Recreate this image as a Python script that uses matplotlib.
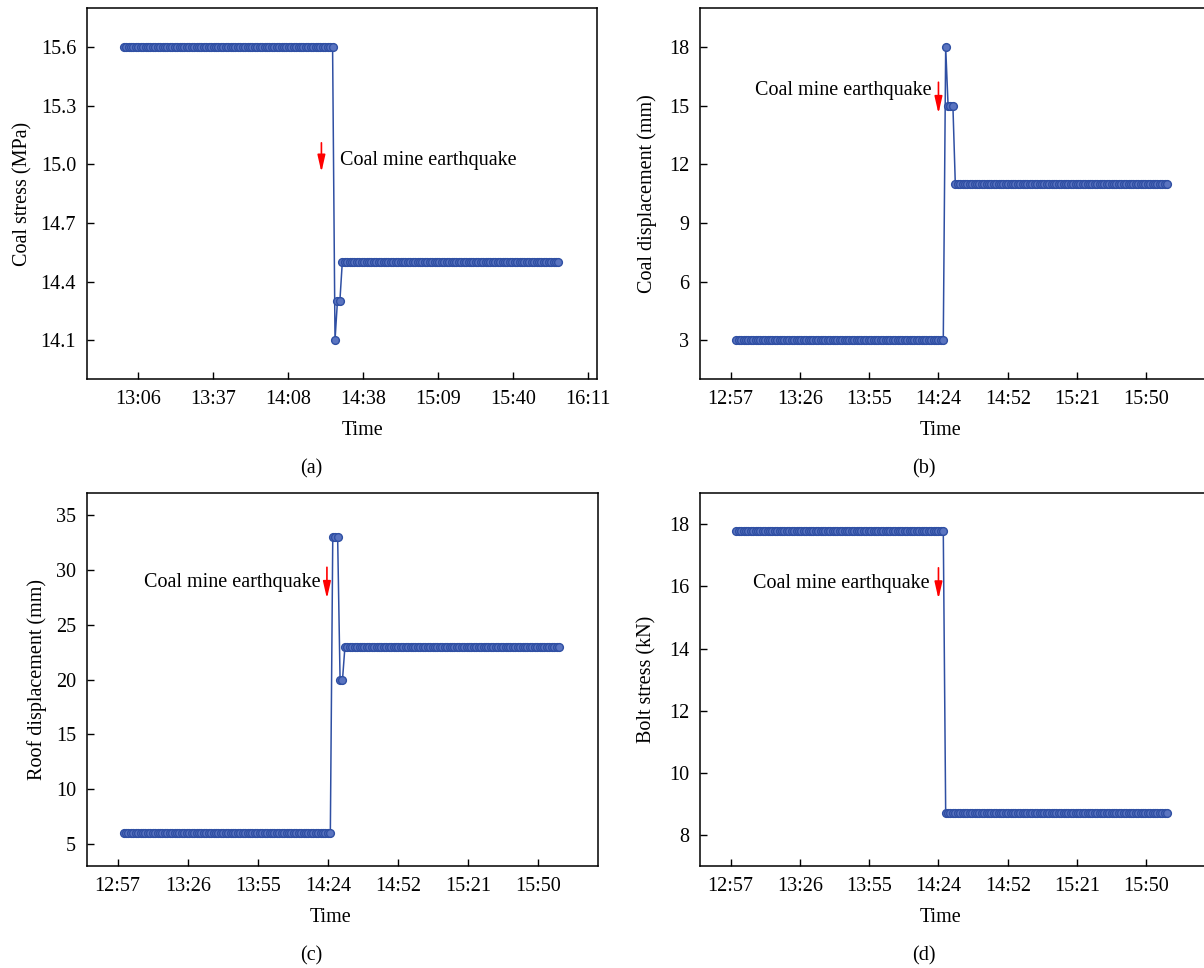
import numpy as np
import matplotlib
matplotlib.use("Agg")
import matplotlib.pyplot as plt

plt.rcParams['font.family'] = ['Liberation Serif', 'DejaVu Serif']
plt.rcParams['font.size'] = 14.5

# ---- data (time in minutes after midnight, one sample per minute) ----
t_start = 780          # 13:00
# run-length description of each series: level values and number of samples
a_levels = [15.6, 14.1, 14.3, 14.5]
a_counts = [87, 1, 2, 90]
b_levels = [3, 18, 15, 11]
b_counts = [87, 1, 3, 89]
c_levels = [6, 33, 20, 23]
c_counts = [86, 3, 2, 89]
d_levels = [17.8, 8.7]
d_counts = [87, 93]
event_time = 866       # 14:26

# tick positions (minutes) and labels
a_ticks = [786.0, 816.83, 847.67, 878.5, 909.33, 940.17, 971.0]
a_ticklabels = ["13:06", "13:37", "14:08", "14:38", "15:09", "15:40", "16:11"]
bcd_ticks = [777.6, 806.4, 835.2, 864.0, 892.8, 921.6, 950.4]
bcd_ticklabels = ["12:57", "13:26", "13:55", "14:24", "14:52", "15:21", "15:50"]

a_yticks = [14.1, 14.4, 14.7, 15.0, 15.3, 15.6]
b_yticks = [3, 6, 9, 12, 15, 18]
c_yticks = [5, 10, 15, 20, 25, 30, 35]
d_yticks = [8, 10, 12, 14, 16, 18]

ylabels = ["Coal stress (MPa)", "Coal displacement (mm)",
           "Roof displacement (mm)", "Bolt stress (kN)"]
captions = ["(a)", "(b)", "(c)", "(d)"]
annot_text = "Coal mine earthquake"


def expand(levels, counts):
    y = np.repeat(levels, counts)
    t = t_start + np.arange(len(y))
    return t, y


fig = plt.figure(figsize=(12.04, 9.68), dpi=100)
W, H = 1204.0, 968.0

def add_ax(l, r, top, bot):
    return fig.add_axes([l / W, 1 - bot / H, (r - l) / W, (bot - top) / H])

axa = add_ax(87.3, 597.3, 8, 379.3)
axb = add_ax(700.3, 1205.5, 8, 379.3)
axc = add_ax(87.0, 598.0, 493.3, 866)
axd = add_ax(700.3, 1205.5, 493.3, 866)

line_col = '#2f4fa3'
face_col = '#5a74c0'

specs = [
    (axa, a_levels, a_counts, a_ticks, a_ticklabels, a_yticks, (13.9, 15.8)),
    (axb, b_levels, b_counts, bcd_ticks, bcd_ticklabels, b_yticks, (1, 20)),
    (axc, c_levels, c_counts, bcd_ticks, bcd_ticklabels, c_yticks, (3, 37)),
    (axd, d_levels, d_counts, bcd_ticks, bcd_ticklabels, d_yticks, (7, 19)),
]

ylab_x = [-0.108, -0.086, -0.078, -0.086]
time_x = [0.539, 0.475, 0.476, 0.475]

for i, (ax, lev, cnt, xt, xtl, yt, yl) in enumerate(specs):
    t, y = expand(lev, cnt)
    ax.plot(t, y, color=line_col, lw=1.1, marker='o', ms=5.6,
            mfc=face_col, mec=line_col, mew=1.0)
    ax.set_xlim(765, 975)
    ax.set_ylim(*yl)
    ax.set_xticks(xt)
    ax.set_xticklabels(xtl)
    ax.set_yticks(yt)
    if i == 0:
        ax.set_yticklabels([f"{v:.1f}" for v in yt])
    ax.tick_params(direction='in', length=5, width=1, pad=8,
                   top=False, right=False, labelsize=14.5)
    for s in ax.spines.values():
        s.set_linewidth(1.1)
    ax.set_ylabel(ylabels[i], fontsize=14.5)
    ax.yaxis.set_label_coords(ylab_x[i], 0.5)
    ax.set_xlabel("Time", fontsize=14.5)
    ax.xaxis.set_label_coords(time_x[i], -0.112)

# annotations: red arrows and text (positions relative to the event)
arrow_kw = dict(arrowstyle='-|>,head_length=0.7,head_width=0.16', color='red',
                lw=1.2, shrinkA=0, shrinkB=0)
axa.annotate("", xy=(event_time - 4.6, 14.96), xytext=(event_time - 4.6, 15.11),
             arrowprops=arrow_kw)
axa.text(event_time + 3, 15.02, annot_text, ha='left', va='center', fontsize=14.5)

axb.annotate("", xy=(event_time - 2, 14.6), xytext=(event_time - 2, 16.2),
             arrowprops=arrow_kw)
axb.text(event_time - 5, 15.8, annot_text, ha='right', va='center', fontsize=14.5)

axc.annotate("", xy=(event_time - 2.4, 27.4), xytext=(event_time - 2.4, 30.25),
             arrowprops=arrow_kw)
axc.text(event_time - 5, 28.9, annot_text, ha='right', va='center', fontsize=14.5)

axd.annotate("", xy=(event_time - 2, 15.6), xytext=(event_time - 2, 16.6),
             arrowprops=arrow_kw)
axd.text(event_time - 5.5, 16.1, annot_text, ha='right', va='center', fontsize=14.5)

# sub-captions
cap_pos = [(311, 469), (924, 469), (311, 956), (924, 956)]
for (x, y), c in zip(cap_pos, captions):
    fig.text(x / W, 1 - y / H, c, ha='center', va='center', fontsize=14.5)

fig.savefig("out.png", dpi=100)
